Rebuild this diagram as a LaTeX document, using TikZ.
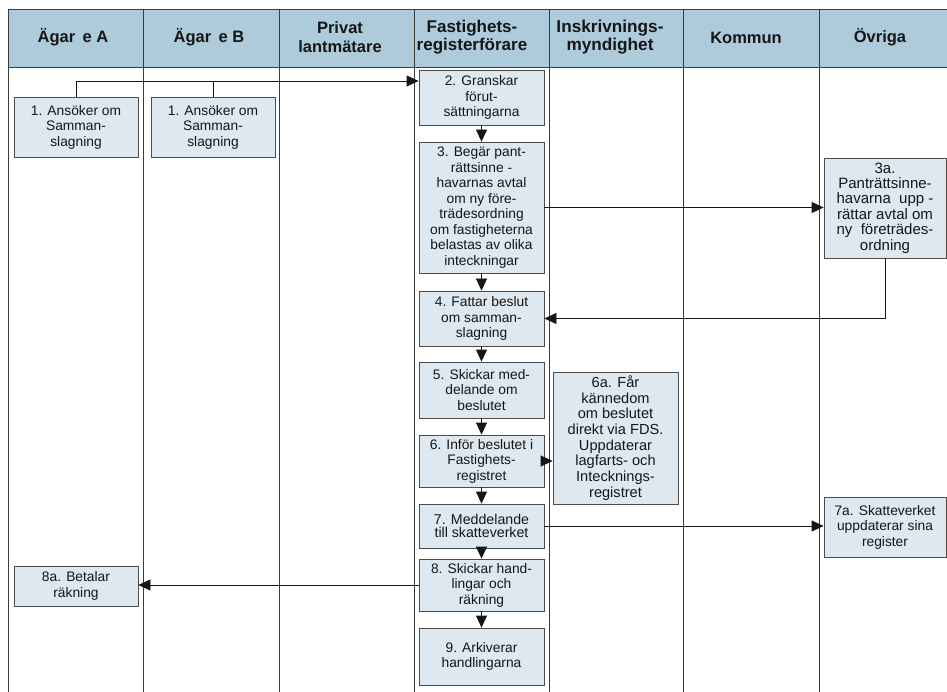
\documentclass[tikz,border=0pt]{standalone}
\usepackage{fontspec}
\setmainfont{Liberation Sans}
\usetikzlibrary{arrows.meta,shadows}
\definecolor{headfill}{HTML}{AECBDC}
\definecolor{boxfill}{HTML}{DDE8F0}
\definecolor{lanegray}{HTML}{3A3A3A}
\definecolor{ink}{HTML}{161616}

\begin{document}
\begin{tikzpicture}[x=1pt,y=-1pt,
  lane/.style={draw=lanegray, line width=0.9pt},
  head/.style={font=\fontsize{16.5}{18.5}\selectfont\bfseries, text=ink, align=center},
  proc/.style={draw=black!70, line width=0.8pt, fill=boxfill, inner sep=0pt,
    align=center, text=ink, font=\fontsize{13.8}{15.5}\selectfont,
    general shadow={fill=black!45, shadow xshift=0.8pt, shadow yshift=-0.8pt}},
  flow/.style={draw=ink, line width=0.8pt, -{Triangle[length=12pt,width=11pt]}},
  link/.style={draw=ink, line width=0.8pt}
]
\useasboundingbox (0,0) rectangle (947,692);

% header band and swimlane separators
\fill[headfill] (8,9) rectangle (947,67);
\draw[lane] (8,9) -- (947,9);
\draw[lane] (8,67) -- (947,67);
\foreach \x in {8,143,279,414,549,683,819} \draw[lane] (\x,9) -- (\x,692);

% lane titles
\node[head] (hA) at (73,37) {Ägar\ \,e A};
\node[head] (hB) at (209,37) {Ägar\ \,e B};
\node[head] (hP) at (340,37) {Privat\\lantmätare};
\node[head, font=\fontsize{17}{18.5}\selectfont\bfseries] (hF) at (472,37) {Fastighets-\\registerförare};
\node[head, font=\fontsize{17.2}{18.5}\selectfont\bfseries] (hI) at (610,37) {Inskrivnings-\\myndighet};
\node[head] (hK) at (746,38) {Kommun};
\node[head] (hO) at (880,37) {Övriga};

% process steps
\node[proc, minimum width=124pt, minimum height=60pt] (a1) at (76,127)
  {1. Ansöker om\\Samman-\\slagning};
\node[proc, minimum width=124pt, minimum height=60pt] (b1) at (213,127)
  {1. Ansöker om\\Samman-\\slagning};
\node[proc, minimum width=125pt, minimum height=55pt] (n2) at (481.5,97.5)
  {2. Granskar\\förut-\\sättningarna};
\node[proc, minimum width=125pt, minimum height=131pt] (n3) at (481.5,207.5)
  {3. Begär pant-\\rättsinne -\\havarnas avtal\\om ny före-\\trädesordning\\om fastigheterna\\belastas av olika\\inteckningar};
\node[proc, minimum width=122pt, minimum height=100pt,
  font=\fontsize{15}{15.4}\selectfont] (n3a) at (885,208)
  {3a.\\Panträttsinne-\\havarna\ \ upp -\\rättar avtal om\\ny\ \ företrädes-\\ordning};
\node[proc, minimum width=125pt, minimum height=55pt] (n4) at (481.5,318.5)
  {4. Fattar beslut\\om samman-\\slagning};
\node[proc, minimum width=125pt, minimum height=56pt] (n5) at (481.5,390)
  {5. Skickar med-\\delande om\\beslutet};
\node[proc, minimum width=125pt, minimum height=52pt] (n6) at (481.5,461)
  {6. Inför beslutet i\\Fastighets-\\registret};
\node[proc, minimum width=125pt, minimum height=132pt,
  font=\fontsize{14.6}{15.7}\selectfont] (n6a) at (615.5,438)
  {6a. Får\\kännedom\\om beslutet\\direkt via FDS.\\Uppdaterar\\lagfarts- och\\Intecknings-\\registret};
\node[proc, minimum width=125pt, minimum height=44pt,
  font=\fontsize{14.2}{13.6}\selectfont] (n7) at (481.5,526)
  {7. Meddelande\\till skatteverket};
\node[proc, minimum width=122pt, minimum height=60pt] (n7a) at (885,527)
  {7a. Skatteverket\\uppdaterar sina\\register};
\node[proc, minimum width=125pt, minimum height=52pt] (n8) at (481.5,585)
  {8. Skickar hand-\\lingar och\\räkning};
\node[proc, minimum width=124pt, minimum height=40pt] (n8a) at (76,586)
  {8a. Betalar\\räkning};
\node[proc, minimum width=125pt, minimum height=57pt] (n9) at (481.5,656.5)
  {9. Arkiverar\\handlingarna};

% connectors
\coordinate (join) at (0,81);
\draw[flow] (a1.north) |- (n2.west |- join);
\draw[link] (b1.north) -- (b1.north |- join);
\draw[flow] (n2) -- (n3);
\draw[flow] (n3.east) -- (n3a.west |- n3.east);
\draw[flow] (n3a.south) |- (n4.east);
\draw[flow] (n3) -- (n4);
\draw[flow] (n4) -- (n5);
\draw[flow] (n5) -- (n6);
\draw[flow] (n6.east) -- (n6a.west |- n6.east);
\draw[flow] (n6) -- (n7);
\draw[flow] (n7.east) -- (n7a.west |- n7.east);
\draw[flow] (n7) -- (n8);
\draw[flow] (n8.west) -- (n8a.east |- n8.west);
\draw[flow] (n8) -- (n9);
\end{tikzpicture}
\end{document}
